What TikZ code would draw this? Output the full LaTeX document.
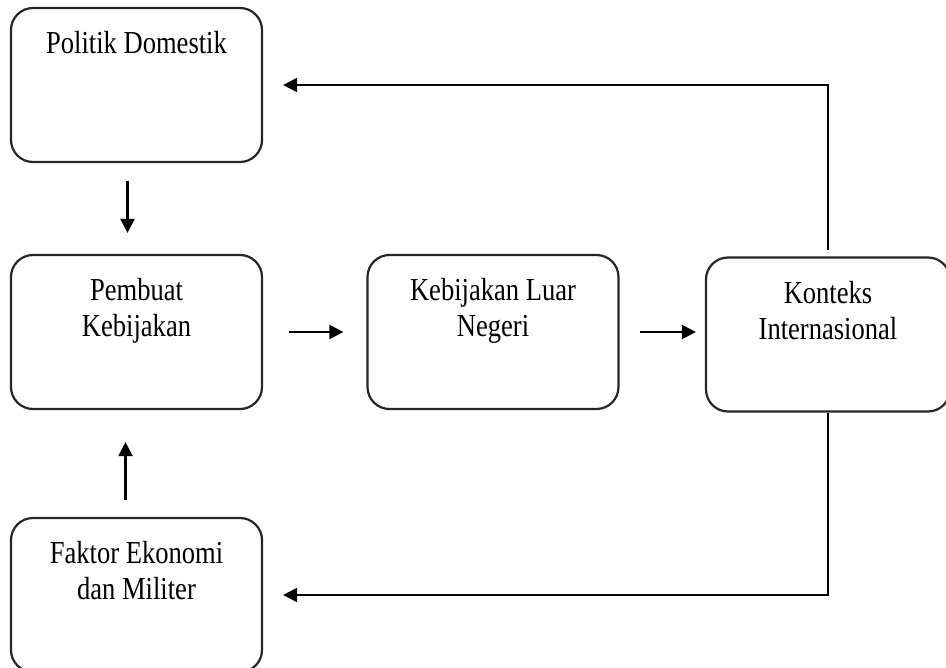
\documentclass[tikz,border=0pt]{standalone}
\usepackage{fontspec}
\setmainfont{Liberation Serif}
\usetikzlibrary{arrows.meta}
\begin{document}
\begin{tikzpicture}[
    x=0.5pt, y=-0.5pt,
    box/.style={
        draw=black!85,
        line width=1.1pt,
        rounded corners=11pt,
        minimum width=125.5pt,
        minimum height=77pt,
        label={[boxtext]north:#1}
    },
    boxtext/.style={
        anchor=north,
        yshift=-12pt,
        inner sep=0pt,
        align=center,
        xscale=0.83,
        transform shape,
        font=\fontsize{16}{18}\selectfont
    },
    arr/.style={
        line width=1.1pt,
        -{Triangle[length=7pt,width=7pt]}
    }
]
    \useasboundingbox (0,0) rectangle (946,668);

    \node[box={Politik Domestik}] (politik) at (136.5,85) {};
    \node[box={Pembuat\\Kebijakan}] (pembuat) at (136.5,332) {};
    \node[box={Faktor Ekonomi\\dan Militer}] (faktor) at (136.5,595) {};
    \node[box={Kebijakan Luar\\Negeri}] (kebijakan) at (493,332) {};
    \node[box={Konteks\\Internasional}, minimum width=122pt] (konteks) at (828,334.5) {};

    \draw[arr, shorten <=9pt, shorten >=10.5pt]
        ([xshift=-4.5pt]politik.south) -- ([xshift=-4.5pt]pembuat.north);
    \draw[arr, shorten <=8.5pt, shorten >=16pt]
        ([xshift=-5.5pt]faktor.north) -- ([xshift=-5.5pt]pembuat.south);
    \draw[arr, shorten <=13pt, shorten >=11.5pt]
        (pembuat.east) -- (kebijakan.west);
    \draw[arr, shorten <=10pt, shorten >=4.5pt]
        (kebijakan.east) -- (kebijakan.east -| konteks.west);
    \draw[arr, shorten <=3pt, shorten >=10pt]
        (konteks.north) |- (politik.east);
    \draw[arr, shorten >=10pt]
        (konteks.south) |- (faktor.east);
\end{tikzpicture}
\end{document}
